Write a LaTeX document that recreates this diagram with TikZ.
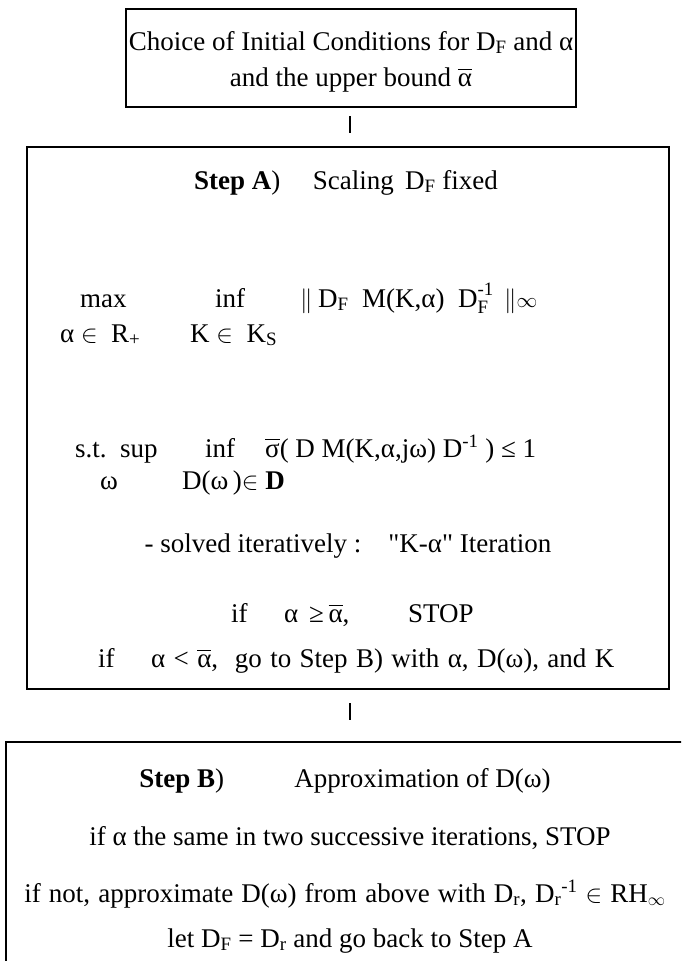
\documentclass[tikz,border=0pt]{standalone}
\usepackage{fontspec}
\usepackage{amsmath}
\setmainfont{Liberation Serif}
% notation helpers
\newcommand\abar{\ensuremath{\overline{\text{α}}}}
\newcommand\sbar{\ensuremath{\overline{\text{σ}}}}
\newcommand\subF{\textsubscript{F}}
\newcommand\DFinv{\ensuremath{\text{D}^{\text{-1}}_{\text{F}}}}
\newcommand\nrm{{\fontsize{27}{27}\selectfont$\|$}}
\newcommand\ninf{{\fontsize{21}{21}\selectfont$\infty$}}
\newcommand\wsp[1]{\spaceskip=#1\relax}
\tikzset{
  txt/.style={font=\fontsize{27}{29}\selectfont, inner sep=0pt, anchor=base},
  txtl/.style={txt, anchor=base west},
  frame/.style={draw, line width=1.6pt, inner sep=0pt},
  tick/.style={line width=1.3pt},
}
\begin{document}
\begin{tikzpicture}[x=1pt,y=-1pt]
\useasboundingbox (0,0) rectangle (681,961);
\clip (0,0) rectangle (681,961);

% initial conditions
\node[frame, minimum width=450pt, minimum height=98pt] (init) at (351,58) {};
\node[txt] (i1) at (351,50) {Choice of Initial Conditions for D\subF{} and α};
\node[txt] (i2) at (351,86) {and the upper bound \abar};

\coordinate (t1a) at (350,116);
\coordinate (t1b) at (350,133);
\draw[tick] (t1a) -- (t1b);

% step A
\node[frame, minimum width=642pt, minimum height=542pt] (boxA) at (348,418) {};
\node[txt] (sA) at (346,189) {\textbf{Step A})\hspace{1.2em}Scaling\, D\subF{} fixed};
\node[txtl] (mx) at (80,307) {max};
\node[txtl] (inf1) at (215,307) {inf};
\node[txtl] (o1) at (300,307) {\nrm};
\node[txtl] (o2) at (318,307) {D\subF};
\node[txtl] (o3) at (362,307) {M(K,α)};
\node[txtl] (o4) at (458,307) {\DFinv};
\node[txtl] (o5) at (504,307) {\nrm\ninf};
\node[txtl] (aR) at (60,342) {α $\in$\ \ R\textsubscript{+}};
\node[txtl] (KK) at (190,342) {K $\in$\ \ K\textsubscript{S}};
\node[txtl] (st) at (75,457) {s.t.};
\node[txtl] (sup) at (120,457) {sup};
\node[txtl] (inf2) at (205,457) {inf};
\node[txtl] (con) at (265,457) {\sbar( D M(K,α,jω) D\textsuperscript{-1}\ )\ ≤ 1};
\node[txtl] (om) at (100,489) {ω};
\node[txtl] (Dom) at (182,489) {D(ω\,)$\in$ \textbf{D}};
\node[txt] (solv) at (348,552) {- solved iteratively\ :\hspace{1em}\textquotedbl K-α\textquotedbl{} Iteration};
\node[txtl] (if1a) at (231,622) {if};
\node[txtl] (if1b) at (284,622) {α};
\node[txtl] (if1c) at (309,622) {≥\,\abar,};
\node[txtl] (if1d) at (408,622) {STOP};
\node[txtl] (if2a) at (98,667) {if};
\node[txtl] (if2b) at (151,667) {\wsp{0.31em}α < \abar,\ \ go to Step B) with α, D(ω), and K};

\coordinate (t2a) at (350,703);
\coordinate (t2b) at (350,720);
\draw[tick] (t2a) -- (t2b);

% step B (runs past the right and lower edges)
\node[frame, minimum width=700pt, minimum height=260pt, anchor=north west] (boxB) at (5,741) {};
\node[txt] (sB) at (345,787) {\textbf{Step B})\hspace{2.6em}Approximation of D(ω)};
\node[txt] (same) at (350,845) {if\ α the same in two successive iterations,\ STOP};
\node[txt] (notB) at (345,902) {\wsp{0.3em}if not, approximate D(ω) from above with D\textsubscript{r},\ D\textsubscript{r}\textsuperscript{-1} $\in$ RH$_\infty$};
\node[txt] (letB) at (350,947) {let\ D\subF{} = D\textsubscript{r} and go back to Step A};
\end{tikzpicture}
\end{document}
